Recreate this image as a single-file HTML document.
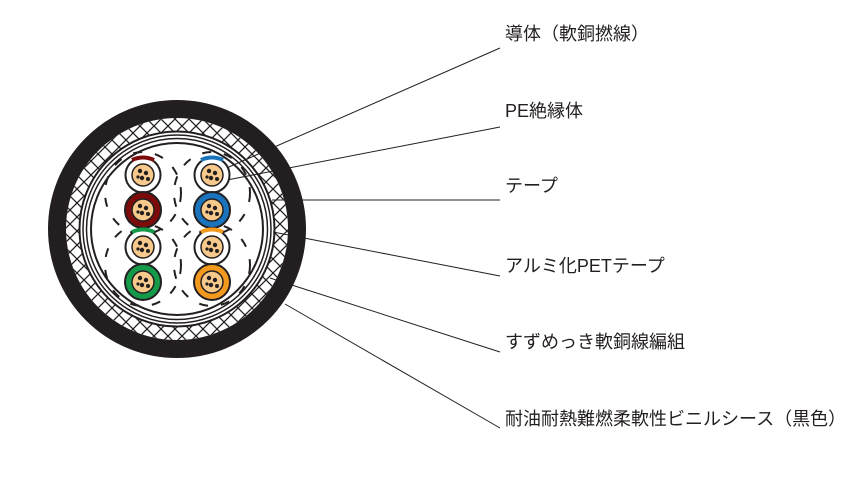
<!DOCTYPE html>
<html><head><meta charset="utf-8"><style>
html,body{margin:0;padding:0;background:#fff;}
svg{display:block;}
text{font-family:"Liberation Sans","Noto Sans CJK JP",sans-serif;font-size:18px;fill:#231f20;}
</style></head><body>
<svg width="866" height="481" viewBox="0 0 866 481" xmlns="http://www.w3.org/2000/svg">
<defs>
<pattern id="braid" width="14" height="14" patternUnits="userSpaceOnUse">
<path d="M0 0L14 14M14 0L0 14" stroke="#231f20" stroke-width="1.3"/>
</pattern>
<g id="cu">
<circle r="11" fill="#f7c98a" stroke="#231f20" stroke-width="1.5"/>
<circle cx="-3" cy="-4" r="2.2" fill="#231f20"/>
<circle cx="3" cy="-2" r="2.2" fill="#231f20"/>
<circle cx="-1" cy="3" r="2.2" fill="#231f20"/>
<circle cx="5" cy="4" r="2" fill="#231f20"/>
<circle cx="-5" cy="2" r="1.6" fill="#231f20"/>
</g>
</defs>
<g stroke="#231f20" stroke-width="1" fill="none">
<line x1="500" y1="48" x2="222" y2="170"/>
<line x1="500" y1="127" x2="227" y2="180"/>
<line x1="500" y1="200" x2="272" y2="200"/>
<line x1="500" y1="276" x2="273" y2="232"/>
<line x1="500" y1="352" x2="270" y2="278"/>
<line x1="500" y1="428" x2="285" y2="304"/>
</g>
<circle cx="177" cy="229" r="120" fill="none" stroke="#231f20" stroke-width="18"/>
<circle cx="177" cy="229" r="104" fill="none" stroke="url(#braid)" stroke-width="14"/>
<g fill="none" stroke="#231f20">
<circle cx="177" cy="229" r="97.5" stroke-width="2"/>
<circle cx="177" cy="229" r="94" stroke-width="1.5"/>
<circle cx="177" cy="229" r="90.5" stroke-width="1.5"/>
<circle cx="177" cy="229" r="86" stroke-width="2"/>
</g>
<g fill="none" stroke="#231f20" stroke-width="2" stroke-dasharray="9 13">
<ellipse cx="143" cy="193" rx="38" ry="41"/>
<ellipse cx="212" cy="193" rx="38" ry="41"/>
<ellipse cx="143" cy="265" rx="38" ry="41"/>
<ellipse cx="212" cy="265" rx="38" ry="41"/>
</g>
<g fill="#fff" stroke="#231f20" stroke-width="2">
<circle cx="143" cy="175" r="17.5"/><circle cx="212" cy="175" r="17.5"/>
<circle cx="143" cy="247" r="17.5"/><circle cx="212" cy="247" r="17.5"/>
</g>
<g stroke="#231f20" stroke-width="2">
<circle cx="143" cy="210" r="18" fill="#7d0b0b"/>
<circle cx="212" cy="210" r="18" fill="#1a73bd"/>
<circle cx="143" cy="282" r="18" fill="#159a4a"/>
<circle cx="212" cy="282" r="18" fill="#f39a1e"/>
</g>
<g fill="none" stroke-width="4">
<path d="M132 160 Q143 155 154 160" stroke="#7d0b0b"/>
<path d="M201 160 Q212 155 223 160" stroke="#1a73bd"/>
<path d="M132 232 Q143 227 154 232" stroke="#159a4a"/>
<path d="M201 232 Q212 227 223 232" stroke="#f39a1e"/>
</g>
<use href="#cu" x="143" y="175"/><use href="#cu" x="212" y="175"/>
<use href="#cu" x="143" y="210"/><use href="#cu" x="212" y="210"/>
<use href="#cu" x="143" y="247"/><use href="#cu" x="212" y="247"/>
<use href="#cu" x="143" y="282"/><use href="#cu" x="212" y="282"/>
<text x="505" y="40">導体（軟銅撚線）</text>
<text x="505" y="117">PE絶縁体</text>
<text x="505" y="192">テープ</text>
<text x="505" y="272">アルミ化PETテープ</text>
<text x="505" y="348">すずめっき軟銅線編組</text>
<text x="505" y="425">耐油耐熱難燃柔軟性ビニルシース（黒色）</text>
</svg>
</body></html>
